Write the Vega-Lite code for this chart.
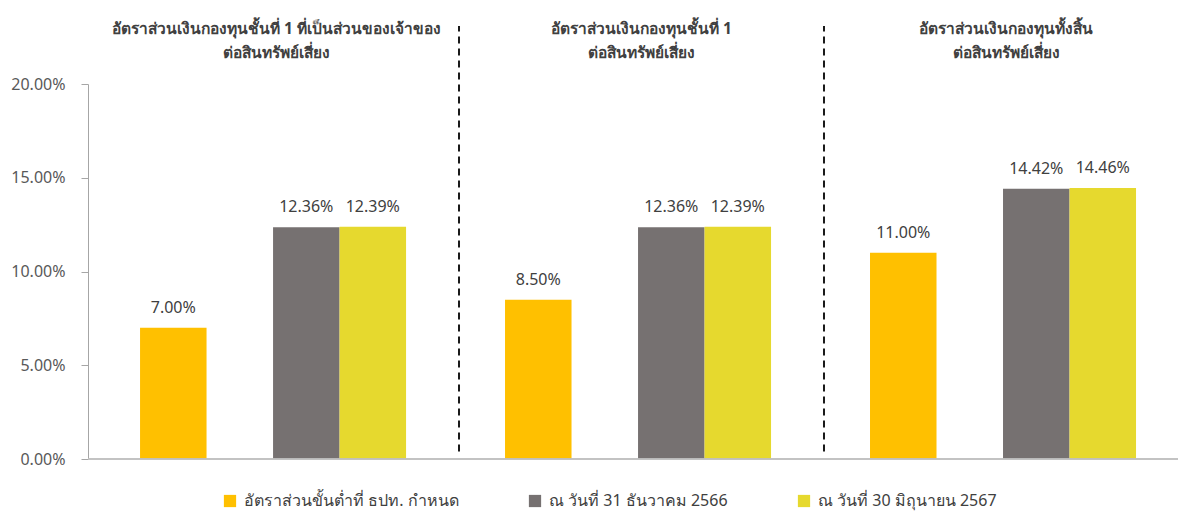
{
  "$schema": "https://vega.github.io/schema/vega-lite/v6.json",
  "autosize": {"type": "none"},
  "padding": {"left": 88, "top": 84, "right": 0, "bottom": 52},
  "width": 1107,
  "height": 375,
  "background": "white",
  "config": {
    "view": {"stroke": null},
    "font": "Noto Sans",
    "axis": {"grid": false}
  },
  "datasets": {
    "bars": [
      {"group": "อัตราส่วนเงินกองทุนชั้นที่ 1 ที่เป็นส่วนของเจ้าของ|ต่อสินทรัพย์เสี่ยง", "series": "อัตราส่วนขั้นต่ำที่ ธปท. กำหนด", "value": 0.07},
      {"group": "อัตราส่วนเงินกองทุนชั้นที่ 1 ที่เป็นส่วนของเจ้าของ|ต่อสินทรัพย์เสี่ยง", "series": "ณ วันที่ 31 ธันวาคม 2566", "value": 0.1236},
      {"group": "อัตราส่วนเงินกองทุนชั้นที่ 1 ที่เป็นส่วนของเจ้าของ|ต่อสินทรัพย์เสี่ยง", "series": "ณ วันที่ 30 มิถุนายน 2567", "value": 0.1239},
      {"group": "อัตราส่วนเงินกองทุนชั้นที่ 1|ต่อสินทรัพย์เสี่ยง", "series": "อัตราส่วนขั้นต่ำที่ ธปท. กำหนด", "value": 0.085},
      {"group": "อัตราส่วนเงินกองทุนชั้นที่ 1|ต่อสินทรัพย์เสี่ยง", "series": "ณ วันที่ 31 ธันวาคม 2566", "value": 0.1236},
      {"group": "อัตราส่วนเงินกองทุนชั้นที่ 1|ต่อสินทรัพย์เสี่ยง", "series": "ณ วันที่ 30 มิถุนายน 2567", "value": 0.1239},
      {"group": "อัตราส่วนเงินกองทุนทั้งสิ้น|ต่อสินทรัพย์เสี่ยง", "series": "อัตราส่วนขั้นต่ำที่ ธปท. กำหนด", "value": 0.11},
      {"group": "อัตราส่วนเงินกองทุนทั้งสิ้น|ต่อสินทรัพย์เสี่ยง", "series": "ณ วันที่ 31 ธันวาคม 2566", "value": 0.1442},
      {"group": "อัตราส่วนเงินกองทุนทั้งสิ้น|ต่อสินทรัพย์เสี่ยง", "series": "ณ วันที่ 30 มิถุนายน 2567", "value": 0.1446}
    ],
    "separators": [
      {"group": "อัตราส่วนเงินกองทุนชั้นที่ 1|ต่อสินทรัพย์เสี่ยง"},
      {"group": "อัตราส่วนเงินกองทุนทั้งสิ้น|ต่อสินทรัพย์เสี่ยง"}
    ]
  },
  "resolve": {"axis": {"x": "independent"}},
  "layer": [
    {
      "data": {"name": "bars"},
      "mark": {"type": "bar"},
      "encoding": {
        "x": {
          "field": "group", "type": "nominal", "sort": null,
          "scale": {
            "domain": [
              "อัตราส่วนเงินกองทุนชั้นที่ 1 ที่เป็นส่วนของเจ้าของ|ต่อสินทรัพย์เสี่ยง",
              "อัตราส่วนเงินกองทุนชั้นที่ 1|ต่อสินทรัพย์เสี่ยง",
              "อัตราส่วนเงินกองทุนทั้งสิ้น|ต่อสินทรัพย์เสี่ยง"
            ],
            "paddingInner": 0, "paddingOuter": 0.0165
          },
          "axis": {
            "orient": "top", "title": null, "domain": false, "ticks": false,
            "labelAngle": 0, "labelExpr": "split(datum.label, '|')",
            "labelFontSize": 15.5, "labelFontWeight": "bold", "labelColor": "#404040",
            "labelLineHeight": 24, "labelPadding": 48, "labelLimit": 500
          }
        },
        "xOffset": {
          "field": "series", "type": "nominal",
          "scale": {
            "domain": ["อัตราส่วนขั้นต่ำที่ ธปท. กำหนด", "gap", "ณ วันที่ 31 ธันวาคม 2566", "ณ วันที่ 30 มิถุนายน 2567"],
            "paddingInner": 0, "paddingOuter": 0.744, "align": 0.465
          }
        },
        "y": {
          "field": "value", "type": "quantitative",
          "scale": {"domain": [0, 0.2], "nice": false},
          "axis": {
            "title": null, "format": ".2%", "values": [0, 0.05, 0.1, 0.15, 0.2],
            "labelFontSize": 16, "labelColor": "#595959", "labelPadding": 16,
            "tickSize": 7, "tickColor": "#A6A6A6", "domainColor": "#A6A6A6"
          }
        },
        "color": {
          "field": "series", "type": "nominal",
          "scale": {
            "domain": ["อัตราส่วนขั้นต่ำที่ ธปท. กำหนด", "ณ วันที่ 31 ธันวาคม 2566", "ณ วันที่ 30 มิถุนายน 2567"],
            "range": ["#FFC000", "#767171", "#E6D92E"]
          },
          "legend": {
            "title": null, "orient": "none", "direction": "horizontal",
            "legendX": 134, "legendY": 409,
            "symbolType": "square", "symbolSize": 150, "symbolStrokeWidth": 0,
            "labelFontSize": 16, "labelColor": "#404040", "labelOffset": 6,
            "columnPadding": 68, "labelLimit": 400
          }
        }
      }
    },
    {
      "data": {"name": "bars"},
      "mark": {"type": "text", "baseline": "alphabetic", "dy": -15, "fontSize": 16, "color": "#404040"},
      "encoding": {
        "x": {"field": "group", "type": "nominal", "sort": null, "axis": null},
        "xOffset": {"field": "series", "type": "nominal"},
        "y": {"field": "value", "type": "quantitative"},
        "text": {"field": "value", "type": "quantitative", "format": ".2%"}
      }
    },
    {
      "data": {"name": "separators"},
      "mark": {"type": "rule", "strokeDash": [7, 5], "strokeWidth": 2, "color": "#1a1a1a"},
      "encoding": {
        "x": {"field": "group", "type": "nominal", "bandPosition": 0, "axis": null},
        "y": {"datum": 0.004},
        "y2": {"datum": 0.231}
      }
    },
    {
      "data": {"name": "separators"},
      "mark": {"type": "rule", "color": "#BFBFBF", "strokeWidth": 1.5},
      "encoding": {
        "y": {"datum": 0}
      }
    }
  ]
}
